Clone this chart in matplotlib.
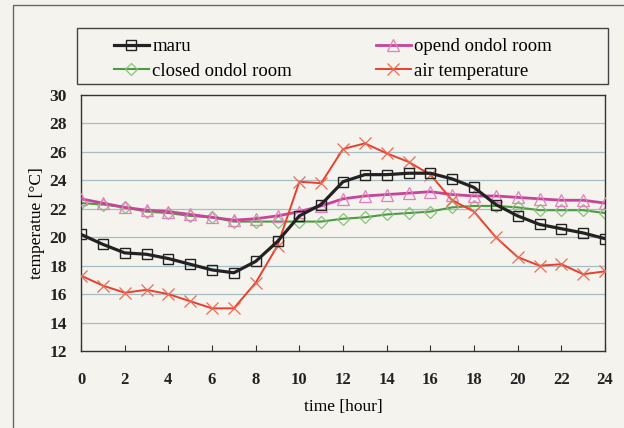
import numpy as np
import matplotlib.pyplot as plt
from matplotlib.patches import Rectangle

plt.rcParams['font.family'] = ['Liberation Serif', 'DejaVu Serif']

hours = list(range(25))

maru = [20.2, 19.5, 18.9, 18.8, 18.5, 18.1, 17.7, 17.5, 18.3, 19.7, 21.5,
        22.3, 23.9, 24.4, 24.4, 24.5, 24.5, 24.1, 23.5, 22.3, 21.5, 20.9,
        20.6, 20.3, 19.9]
opend = [22.7, 22.4, 22.1, 21.9, 21.8, 21.6, 21.4, 21.2, 21.3, 21.5, 21.8,
         22.2, 22.7, 22.9, 23.0, 23.1, 23.2, 23.0, 22.9, 22.9, 22.8, 22.7,
         22.6, 22.6, 22.4]
closed = [22.4, 22.3, 22.1, 21.8, 21.7, 21.5, 21.4, 21.1, 21.1, 21.1, 21.1,
          21.1, 21.3, 21.4, 21.6, 21.7, 21.8, 22.1, 22.2, 22.2, 22.1, 21.9,
          21.9, 21.9, 21.7]
air = [17.3, 16.6, 16.1, 16.3, 16.0, 15.5, 15.0, 15.0, 16.8, 19.4, 23.9,
       23.8, 26.2, 26.6, 25.9, 25.3, 24.4, 22.6, 21.8, 20.0, 18.6, 18.0,
       18.1, 17.4, 17.6]

bg = '#f4f3ee'
W, H = 624, 428
fig = plt.figure(figsize=(6.24, 4.28), dpi=100, facecolor=bg)
ax = fig.add_axes([81 / W, 1 - 351 / H, 524 / W, 256 / H])
ax.set_facecolor(bg)

# outer frame of the picture
fig.patches.append(Rectangle((13 / W, -0.1), 1.0, 1 - 5 / H + 0.1,
                             transform=fig.transFigure, fill=False,
                             edgecolor='#6a6660', lw=1.0))
# legend box
fig.patches.append(Rectangle((77 / W, 1 - 84 / H), 531 / W, 56 / H,
                             transform=fig.transFigure, fill=False,
                             edgecolor='#444444', lw=1.0))

for y in range(14, 30, 2):
    ax.axhline(y, color='#a8bcc4', lw=0.9, zorder=0)

l_maru, = ax.plot(hours, maru, color='#222222', lw=2.3, marker='s', ms=7.5,
                  mfc='none', mec='#222222', mew=1.0, label='maru', zorder=4)
l_closed, = ax.plot(hours, closed, color='#4e9a45', lw=1.5, marker='D', ms=6.5,
                    mfc='none', mec='#8cc07e', mew=0.9,
                    label='closed ondol room', zorder=2)
l_opend, = ax.plot(hours, opend, color='#c8449a', lw=2.0, marker='^', ms=8,
                   mfc='none', mec='#e47fbd', mew=0.9,
                   label='opend ondol room', zorder=3)
l_air, = ax.plot(hours, air, color='#e8402e', lw=1.4, marker='x', ms=9,
                 mec='#ec6a55', mew=0.9, label='air temperature', zorder=3)

ax.set_xlim(0, 24)
ax.set_ylim(12, 30)
ax.set_xticks(range(0, 25, 2))
ax.set_yticks(range(12, 31, 2))
ax.tick_params(axis='x', direction='in', length=4, pad=15, labelsize=12,
               color='#333333')
ax.tick_params(axis='y', length=0, pad=10, labelsize=12.5)
for lab in ax.get_xticklabels() + ax.get_yticklabels():
    lab.set_fontweight('bold')
    lab.set_color('#222222')
for s in ax.spines.values():
    s.set_color('#333333')
    s.set_linewidth(1.0)

ax.set_xlabel('time [hour]', fontsize=12.5, labelpad=8)
ax.set_ylabel('temperatue [°C]', fontsize=12.5, labelpad=3)

leg = fig.legend(handles=[l_maru, l_closed, l_opend, l_air], ncol=2,
                 loc='center left',
                 bbox_to_anchor=(114 / W, 1 - 83 / H, 438 / W, 48 / H),
                 mode='expand', fontsize=13.5, frameon=False,
                 handlelength=1.85, handletextpad=0.2, borderpad=0,
                 labelspacing=0.4, borderaxespad=0)

fig.savefig('out.png', dpi=100, facecolor=bg)
